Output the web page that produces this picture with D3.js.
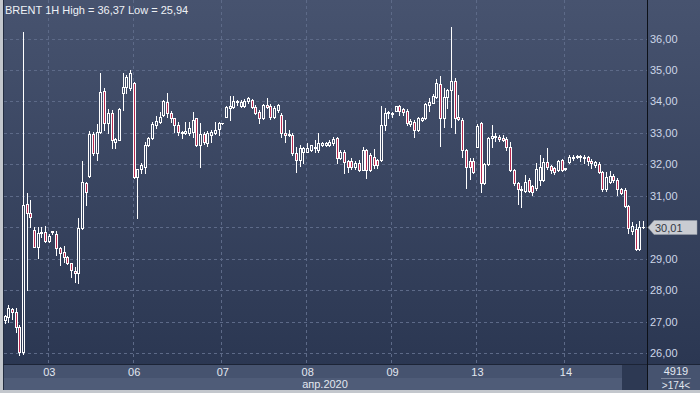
<!DOCTYPE html>
<html><head><meta charset="utf-8">
<script src="https://cdn.jsdelivr.net/npm/d3@7"></script>
<style>html,body{margin:0;padding:0;background:#c4c8ce;}svg{display:block;font-family:"Liberation Sans",Arial,sans-serif;}</style>
</head><body>
<svg id="c" width="700" height="393"></svg>
<script>
const opens  = [27.05,27.15,27.40,27.30,26.83,26.04,30.74,30.45,29.91,29.38,29.83,29.85,29.57,29.85,29.79,29.35,29.22,29.06,28.87,28.62,28.55,29.97,31.40,31.63,32.97,32.36,33.03,34.33,33.32,33.63,32.70,32.78,34.26,34.47,34.42,34.58,31.61,31.85,31.93,32.62,32.83,33.25,33.36,33.57,33.97,33.62,33.46,33.25,32.99,32.99,33.01,33.04,33.46,32.62,32.97,32.67,32.93,32.99,33.12,33.30,33.52,33.78,33.83,33.99,33.86,33.86,34.02,34.05,33.83,33.67,33.49,33.89,33.86,33.52,33.73,33.57,32.99,32.93,32.93,32.37,32.14,32.40,32.40,32.46,32.53,32.46,32.62,32.62,32.62,32.67,32.83,32.20,32.40,32.11,32.12,31.91,32.04,31.82,32.46,32.30,32.25,32.14,32.14,33.25,33.62,33.59,33.71,33.86,33.75,33.71,33.28,33.35,33.09,33.41,33.46,33.89,33.96,34.15,34.55,33.46,34.13,34.36,34.64,33.52,33.41,32.46,32.12,32.12,32.56,33.31,31.40,32.01,32.83,32.86,32.87,32.84,32.81,32.54,31.82,31.42,31.19,31.17,31.50,31.30,31.26,31.50,31.50,32.09,31.95,31.88,31.82,32.14,31.85,32.09,32.20,32.23,32.22,32.20,32.23,32.12,31.98,32.01,31.75,31.21,31.45,31.63,31.50,31.21,31.19,30.68,29.89,29.94,29.31,30.00];
const highs  = [27.22,27.53,27.45,27.44,26.90,36.20,31.09,30.87,30.00,30.00,30.00,30.04,29.78,29.90,29.88,29.38,29.41,29.10,28.87,28.74,30.30,32.10,31.44,33.06,33.03,33.28,34.90,34.43,33.76,33.73,32.84,33.78,34.90,34.84,35.00,34.63,31.85,32.05,32.72,32.86,33.36,33.54,33.66,34.05,34.26,33.70,33.46,33.36,33.06,33.36,33.36,33.67,33.49,33.30,33.04,33.07,33.09,33.35,33.36,33.33,33.84,34.17,34.17,34.06,34.05,34.09,34.14,34.07,33.88,33.73,33.92,34.10,33.92,33.84,33.92,33.62,33.41,33.09,32.99,32.56,32.62,32.56,32.67,32.62,32.78,32.99,32.72,32.72,32.78,32.86,32.86,32.46,32.46,32.14,32.20,32.10,32.14,32.56,32.50,32.35,32.49,32.17,33.86,33.78,33.70,33.67,33.86,33.89,33.78,33.75,33.43,33.41,33.52,33.52,33.95,34.10,34.24,34.71,34.81,34.42,34.38,36.37,34.73,34.20,33.46,32.50,32.20,32.20,33.28,33.36,32.03,32.88,33.25,32.99,32.95,32.93,32.86,32.70,31.84,31.45,31.31,31.66,31.56,31.36,32.03,32.30,32.19,32.51,31.98,31.93,32.14,32.17,31.90,32.30,32.30,32.30,32.30,32.30,32.27,32.17,32.12,32.09,31.80,31.77,31.80,31.70,31.56,31.24,31.24,30.72,30.18,30.10,30.20,30.20];
const lows   = [26.96,27.00,27.10,26.68,25.94,25.98,28.00,30.00,29.38,29.03,29.69,29.54,29.54,29.80,29.12,28.81,28.90,28.84,28.42,28.27,28.23,29.94,30.71,31.60,32.30,32.14,33.00,33.10,33.00,32.52,32.51,32.76,33.73,34.27,34.36,31.57,30.30,31.73,31.73,32.60,32.80,33.16,33.33,33.54,33.52,33.36,33.04,32.94,32.84,32.96,32.94,32.88,32.57,31.91,32.65,32.60,32.70,32.96,32.93,33.28,33.50,33.41,33.78,33.90,33.83,33.83,33.96,33.78,33.60,33.31,33.43,33.78,33.43,33.49,33.67,32.88,32.72,32.90,32.30,31.77,31.96,32.04,32.40,32.44,32.40,32.40,32.57,32.57,32.57,32.62,32.04,32.17,31.72,31.77,31.85,31.85,31.80,31.82,31.56,31.78,31.88,31.89,32.12,33.09,33.46,33.50,33.71,33.56,33.56,33.25,33.22,32.86,33.07,33.38,33.43,33.71,33.94,34.10,32.59,33.20,33.80,33.20,33.00,33.41,32.24,31.24,31.53,31.74,32.54,31.13,31.38,31.98,32.56,32.75,32.75,32.73,32.47,31.80,31.35,30.74,30.64,31.13,31.13,31.03,31.20,31.35,31.48,31.85,31.74,31.68,31.80,31.80,31.83,32.06,32.15,32.20,32.12,32.06,31.99,31.88,31.93,31.72,31.17,31.17,31.40,31.45,31.04,31.05,30.64,29.82,29.80,29.28,29.28,29.98];
const closes = [27.18,27.44,27.32,26.83,26.04,30.71,30.45,30.32,29.38,29.81,29.86,29.57,29.73,29.87,29.35,29.19,29.06,28.87,28.65,28.55,29.97,31.44,31.12,32.97,32.36,33.03,34.30,33.32,33.63,32.78,32.80,33.76,34.47,34.79,34.91,31.61,31.85,31.98,32.62,32.84,33.28,33.38,33.52,34.00,33.62,33.46,33.25,33.04,33.04,33.07,33.15,33.41,32.62,32.97,32.72,33.00,33.04,33.09,33.30,33.32,33.83,33.86,34.02,34.02,33.99,34.02,34.10,33.83,33.62,33.46,33.89,33.83,33.52,33.78,33.89,32.99,32.93,32.97,32.35,32.14,32.51,32.51,32.51,32.62,32.56,32.67,32.67,32.67,32.72,32.80,32.20,32.40,32.09,31.93,31.91,32.04,31.82,32.46,31.82,31.82,31.98,31.98,33.25,33.64,33.67,33.64,33.86,33.71,33.67,33.31,33.38,33.09,33.49,33.49,33.92,33.99,34.17,34.58,33.46,34.15,34.36,34.64,33.49,33.43,32.46,31.93,31.93,31.77,33.22,31.40,32.01,32.83,32.89,32.89,32.82,32.79,32.54,31.82,31.40,31.21,31.21,31.45,31.17,31.13,31.87,31.93,32.09,31.93,31.82,31.77,32.11,31.82,31.88,32.23,32.23,32.27,32.27,32.25,32.12,32.06,32.07,31.77,31.21,31.61,31.63,31.50,31.21,31.10,30.68,29.97,30.04,29.31,30.01,30.01];
const dayLabels   = ["03","06","07","08","09","13","14"];
const dayStartIdx = [12,35,59,82,105,128,152];
const yTicks = [26,27,28,29,30,31,32,33,34,35,36];
const monthLabel = "апр.2020";
const titleText = "BRENT 1H High = 36,37 Low = 25,94";
const lastPrice = 30.01;
const cornerTop = "4919", cornerBottom = ">174<";

const svg = d3.select("#c");
const W = 700, H = 393;
const plotL = 3, plotR = 647, plotT = 0, plotB = 364;
const defs = svg.append("defs");
const g = defs.append("linearGradient").attr("id","bg").attr("gradientUnits","userSpaceOnUse")
  .attr("x1",0).attr("y1",0).attr("x2",0).attr("y2",plotB);
g.append("stop").attr("offset","0").attr("stop-color","#47536f");
g.append("stop").attr("offset","1").attr("stop-color","#2b3752");

// frame
svg.append("rect").attr("x",0).attr("y",0).attr("width",W).attr("height",H).attr("fill","#c3c7cd");
svg.append("rect").attr("x",plotL).attr("y",0).attr("width",W-plotL).attr("height",plotB).attr("fill","url(#bg)");
// bottom axis bands
svg.append("rect").attr("x",plotL).attr("y",plotB).attr("width",plotR-plotL).attr("height",14).attr("fill","#46536f");
svg.append("rect").attr("x",plotL).attr("y",plotB+14).attr("width",plotR-plotL).attr("height",12).attr("fill","#4f5c78");
svg.append("rect").attr("x",622).attr("y",plotB).attr("width",plotR-622).attr("height",26).attr("fill","#2d3953");
svg.append("rect").attr("x",plotR).attr("y",plotB).attr("width",W-plotR).attr("height",26).attr("fill","#46536f");
svg.append("rect").attr("x",plotL).attr("y",0).attr("width",1).attr("height",390).attr("fill","#222c40");
svg.append("rect").attr("x",plotL).attr("y",plotB).attr("width",W-plotL).attr("height",1).attr("fill","#1c2436");
svg.append("rect").attr("x",plotR).attr("y",0).attr("width",1).attr("height",390).attr("fill","#0d1118");

const n = opens.length;
const x = d3.scaleLinear().domain([0, n-1]).range([4.5, 643]);
const y = d3.scaleLinear().domain([26, 36]).range([353.3, 38.5]);

// grid
const grid = svg.append("g").attr("stroke","#5d6a88").attr("stroke-dasharray","3,3").attr("stroke-width",1);
yTicks.forEach(t => {
  const yy = Math.round(y(t)) + 0.5;
  grid.append("line").attr("x1",plotL+1).attr("x2",plotR).attr("y1",yy).attr("y2",yy);
});
dayStartIdx.forEach(i => {
  const xx = Math.round(x(i)) - 0.5;
  grid.append("line").attr("x1",xx).attr("x2",xx).attr("y1",0).attr("y2",plotB);
});

// candles
const cg = svg.append("g").attr("shape-rendering","crispEdges");
for (let i = 0; i < n; i++) {
  const o = opens[i], h = highs[i], l = lows[i], c = closes[i];
  const cx = Math.round(x(i));
  const yh = Math.round(y(h)), yl = Math.round(y(l));
  cg.append("rect").attr("x",cx).attr("y",yh).attr("width",1).attr("height",Math.max(1,yl-yh+1)).attr("fill","#ffffff");
  const top = Math.round(y(Math.max(o,c))), bot = Math.round(y(Math.min(o,c)));
  cg.append("rect").attr("x",cx-1).attr("y",top).attr("width",3).attr("height",Math.max(1,bot-top+1)).attr("fill","#ffffff");
  if (bot - top >= 2) {
    cg.append("rect").attr("x",cx).attr("y",top+1).attr("width",1).attr("height",bot-top-1)
      .attr("fill", c < o ? "#b8294f" : "url(#bg)");
  }
}

// y axis labels (the label under the last-price marker is hidden, as in the original)
const labelTicks = yTicks.filter(t => Math.abs(y(t) - y(lastPrice)) > 10);
const yAxis = d3.axisRight(y).tickValues(labelTicks).tickSize(0).tickPadding(0)
  .tickFormat(d => d3.format(".2f")(d).replace(".", ","));
const ya = svg.append("g").attr("transform",`translate(${plotR+3},0)`).call(yAxis);
ya.select(".domain").remove();
ya.selectAll("text").attr("fill","#cdd6e8").attr("font-size","11px").attr("font-family","'Liberation Sans',Arial,sans-serif");

// last price marker
const yp = Math.round(y(lastPrice)) + 0.5;
svg.append("path").attr("d",`M${plotR+1},${yp} L${plotR+7},${yp-7} L697,${yp-7} L697,${yp+7} L${plotR+7},${yp+7} Z`)
  .attr("fill","#c9ccd2").attr("stroke","#9aa0aa").attr("stroke-width",0.5);
svg.append("text").attr("x",plotR+8).attr("y",yp+4).attr("font-size","11px").attr("fill","#333844")
  .text(d3.format(".2f")(lastPrice).replace(".", ","));

// x axis labels
const xAxis = d3.axisBottom(x).tickValues(dayStartIdx).tickSize(0).tickPadding(0)
  .tickFormat((d,i) => dayLabels[i]);
const xa = svg.append("g").attr("transform",`translate(0,${plotB+4})`).call(xAxis);
xa.select(".domain").remove();
xa.selectAll("text").attr("fill","#e2e7f0").attr("font-size","11px").attr("font-family","'Liberation Sans',Arial,sans-serif");

svg.append("text").attr("x",(plotL+plotR)/2).attr("y",388).attr("text-anchor","middle")
  .attr("font-size","11px").attr("fill","#e2e7f0").text(monthLabel);

// corner
svg.append("text").attr("x",676).attr("y",375).attr("text-anchor","middle").attr("font-size","11px").attr("fill","#e2e7f0").text(cornerTop);
svg.append("rect").attr("x",661).attr("y",378).attr("width",30).attr("height",1).attr("fill","#7c879d");
svg.append("text").attr("x",676).attr("y",389).attr("text-anchor","middle").attr("font-size","10px").attr("fill","#e2e7f0").text(cornerBottom);

// title
svg.append("text").attr("x",5).attr("y",14).attr("font-size","11px").attr("fill","#eef1f6").text(titleText);
</script>
</body></html>
